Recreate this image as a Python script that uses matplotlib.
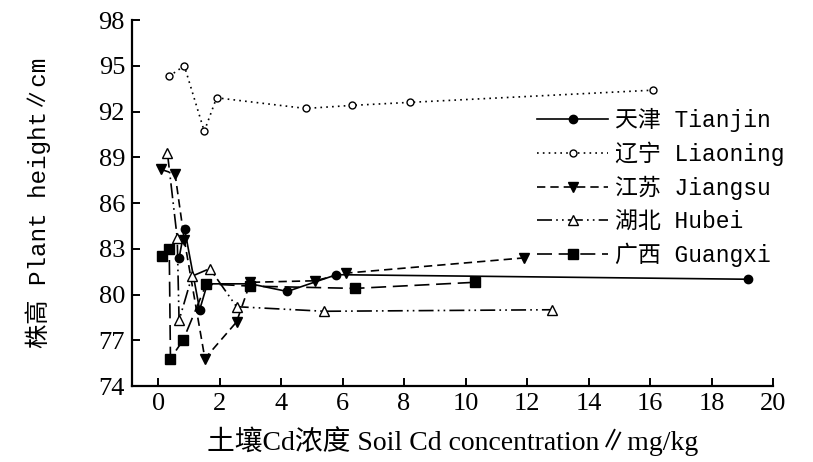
import matplotlib
matplotlib.use('Agg')
import matplotlib.pyplot as plt

# Data
tianjin_x = [0.68, 0.86, 1.35, 1.6, 3.0, 4.2, 5.8, 19.2]
tianjin_y = [82.4, 84.3, 79.0, 80.7, 80.7, 80.2, 81.3, 81.0]

liaoning_x = [0.35, 0.85, 1.5, 1.9, 4.8, 6.3, 8.2, 16.1]
liaoning_y = [94.3, 95.0, 90.7, 92.9, 92.2, 92.4, 92.6, 93.4]

jiangsu_x = [0.1, 0.55, 0.85, 1.52, 2.55, 3.0, 5.1, 6.1, 11.9]
jiangsu_y = [88.2, 87.9, 83.6, 75.8, 78.2, 80.8, 80.9, 81.4, 82.4]

hubei_x = [0.3, 0.62, 0.68, 1.1, 1.68, 2.55, 5.4, 12.8]
hubei_y = [89.3, 83.7, 78.3, 81.2, 81.7, 79.2, 78.9, 79.0]

guangxi_x = [0.13, 0.36, 0.4, 0.81, 1.57, 3.0, 6.4, 10.3]
guangxi_y = [82.5, 83.0, 75.8, 77.0, 80.7, 80.55, 80.4, 80.8]

labels = ['天津 Tianjin', '辽宁 Liaoning', '江苏 Jiangsu', '湖北 Hubei', '广西 Guangxi']
x_ticks = list(range(0, 21, 2))
y_ticks = list(range(74, 99, 3))

serif = ['Liberation Serif', 'Noto Sans CJK SC', 'DejaVu Sans']
mono = ['Liberation Mono', 'Noto Sans CJK SC', 'DejaVu Sans']

fig = plt.figure(figsize=(8.13, 4.62), dpi=100)
ax = fig.add_axes([0.1624, 0.1645, 0.7884, 0.7922])

lw = 1.2
ax.plot(tianjin_x, tianjin_y, color='black', lw=lw, ls='-',
        marker='o', ms=6, mfc='black', mec='black', label=labels[0])
ax.plot(liaoning_x, liaoning_y, color='black', lw=lw, ls=(0, (1, 2.5)),
        marker='o', ms=5, mfc='white', mec='black', mew=1.0, label=labels[1])
ax.plot(jiangsu_x, jiangsu_y, color='black', lw=lw, ls=(0, (5, 3)),
        marker='v', ms=7.5, mfc='black', mec='black', label=labels[2])
ax.plot(hubei_x, hubei_y, color='black', lw=lw, ls=(0, (9, 2.5, 1, 2.5, 1, 2.5)),
        marker='^', ms=7.5, mfc='white', mec='black', mew=1.0, label=labels[3])
ax.plot(guangxi_x, guangxi_y, color='black', lw=lw, ls=(0, (9, 4)),
        marker='s', ms=7, mfc='black', mec='black', label=labels[4])

ax.set_xlim(-0.85, 20)
ax.set_ylim(74, 98)
ax.set_xticks(x_ticks)
ax.set_yticks(y_ticks)

for side in ['top', 'right']:
    ax.spines[side].set_visible(False)
for side in ['left', 'bottom']:
    ax.spines[side].set_linewidth(1.6)

ax.tick_params(direction='in', length=6, width=1.4, pad=5)
for lab in ax.get_xticklabels() + ax.get_yticklabels():
    lab.set_family(serif)
    lab.set_fontsize(19)

ax.set_xlabel('土壤Cd浓度 Soil Cd concentration∥mg/kg', family=serif,
              fontsize=20, labelpad=8)
ax.set_ylabel('株高 Plant height∥cm', family=mono, fontsize=17.5, labelpad=34)

leg = ax.legend(loc='upper left', bbox_to_anchor=(537 / 813, 1 - 108 / 462),
                bbox_transform=fig.transFigure, frameon=False,
                prop={'family': mono, 'size': 16.5},
                handlelength=3.1, handletextpad=0.3, labelspacing=0.42,
                borderaxespad=0, borderpad=0)

fig.savefig('out.png', dpi=100, facecolor='white')
